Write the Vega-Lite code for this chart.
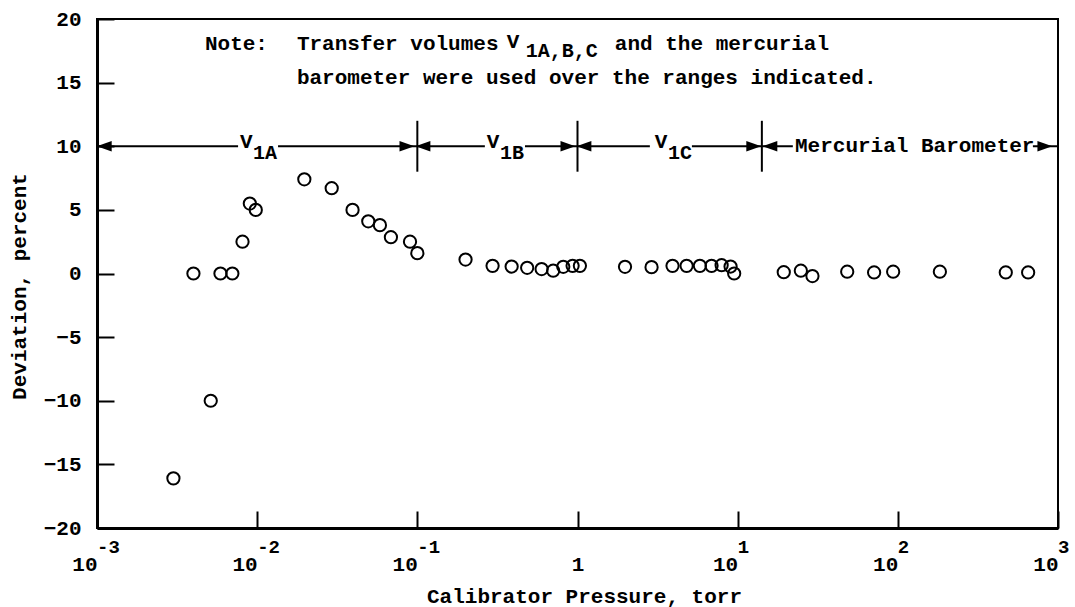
{
  "$schema": "https://vega.github.io/schema/vega-lite/v6.json",
  "autosize": {"type": "none"},
  "padding": {"left": 97, "top": 19, "right": 17, "bottom": 79},
  "width": 961,
  "height": 509,
  "background": "white",
  "config": {
    "view": {"stroke": "black", "strokeWidth": 2},
    "font": "Liberation Mono",
    "axis": {
      "grid": false,
      "domainColor": "black",
      "domainWidth": 3,
      "tickColor": "black",
      "tickWidth": 2,
      "tickSize": -17,
      "labelFont": "Liberation Mono",
      "labelFontWeight": "bold",
      "labelFontSize": 21,
      "labelColor": "black",
      "titleFont": "Liberation Mono",
      "titleFontWeight": "bold",
      "titleFontSize": 21,
      "titleColor": "black",
      "labelOverlap": false,
      "labelFlush": false
    }
  },
  "datasets": {
    "points": [
      {"p": 0.003, "dev": -16.1},
      {"p": 0.004, "dev": 0.0},
      {"p": 0.00513, "dev": -10.0},
      {"p": 0.0059, "dev": 0.0},
      {"p": 0.007, "dev": 0.0},
      {"p": 0.0081, "dev": 2.5},
      {"p": 0.009, "dev": 5.5},
      {"p": 0.0098, "dev": 5.0},
      {"p": 0.0197, "dev": 7.4},
      {"p": 0.0292, "dev": 6.7},
      {"p": 0.0394, "dev": 5.0},
      {"p": 0.0494, "dev": 4.1},
      {"p": 0.0584, "dev": 3.8},
      {"p": 0.0684, "dev": 2.85},
      {"p": 0.09, "dev": 2.5},
      {"p": 0.1, "dev": 1.6},
      {"p": 0.2, "dev": 1.1},
      {"p": 0.295, "dev": 0.6},
      {"p": 0.388, "dev": 0.55},
      {"p": 0.485, "dev": 0.45},
      {"p": 0.597, "dev": 0.35},
      {"p": 0.705, "dev": 0.22},
      {"p": 0.815, "dev": 0.53},
      {"p": 0.932, "dev": 0.6},
      {"p": 1.035, "dev": 0.6},
      {"p": 1.98, "dev": 0.53},
      {"p": 2.9, "dev": 0.5},
      {"p": 3.92, "dev": 0.6},
      {"p": 4.8, "dev": 0.6},
      {"p": 5.81, "dev": 0.6},
      {"p": 6.87, "dev": 0.6},
      {"p": 7.94, "dev": 0.65},
      {"p": 9.03, "dev": 0.55},
      {"p": 9.51, "dev": 0.0},
      {"p": 19.4, "dev": 0.1},
      {"p": 24.8, "dev": 0.22},
      {"p": 29.3, "dev": -0.2},
      {"p": 48.3, "dev": 0.14},
      {"p": 71.1, "dev": 0.08},
      {"p": 93.5, "dev": 0.14},
      {"p": 183, "dev": 0.14},
      {"p": 472, "dev": 0.08},
      {"p": 651, "dev": 0.08}
    ],
    "segments": [
      {"x1": 0.001, "x2": 0.0076, "y": 10},
      {"x1": 0.0135, "x2": 0.1, "y": 10},
      {"x1": 0.1, "x2": 0.264, "y": 10},
      {"x1": 0.47, "x2": 1, "y": 10},
      {"x1": 1, "x2": 2.83, "y": 10},
      {"x1": 5.18, "x2": 14.16, "y": 10},
      {"x1": 14.16, "x2": 22.1, "y": 10},
      {"x1": 697, "x2": 1000, "y": 10}
    ],
    "separators": [
      {"x": 0.1, "y1": 8, "y2": 12},
      {"x": 1, "y1": 8, "y2": 12},
      {"x": 14.16, "y1": 8, "y2": 12}
    ],
    "arrows": [
      {"x": 0.00111, "y": 10, "dir": "left"},
      {"x": 0.1084, "y": 10, "dir": "left"},
      {"x": 1.097, "y": 10, "dir": "left"},
      {"x": 15.9, "y": 10, "dir": "left"},
      {"x": 0.0861, "y": 10, "dir": "right"},
      {"x": 0.871, "y": 10, "dir": "right"},
      {"x": 12.6, "y": 10, "dir": "right"},
      {"x": 828, "y": 10, "dir": "right"}
    ],
    "labels": [
      {"x": 0.00472, "y": 18.05, "t": "Note:", "kind": "main"},
      {"x": 0.0177, "y": 18.05, "t": "Transfer volumes", "kind": "main"},
      {"x": 0.362, "y": 18.2, "t": "V", "kind": "main"},
      {"x": 0.475, "y": 17.45, "t": "1A,B,C", "kind": "sub"},
      {"x": 1.71, "y": 18.05, "t": "and the mercurial", "kind": "main"},
      {"x": 0.0177, "y": 15.36, "t": "barometer were used over the ranges indicated.", "kind": "main"},
      {"x": 0.00782, "y": 10.36, "t": "V", "kind": "main"},
      {"x": 0.00941, "y": 9.47, "t": "1A", "kind": "sub"},
      {"x": 0.2716, "y": 10.36, "t": "V", "kind": "main"},
      {"x": 0.328, "y": 9.47, "t": "1B", "kind": "sub"},
      {"x": 3.04, "y": 10.36, "t": "V", "kind": "main"},
      {"x": 3.67, "y": 9.47, "t": "1C", "kind": "sub"},
      {"x": 22.8, "y": 10, "t": "Mercurial Barometer", "kind": "main"}
    ],
    "exponents": [
      {"p": 0.001, "e": "-3"},
      {"p": 0.01, "e": "-2"},
      {"p": 0.1, "e": "-1"},
      {"p": 10, "e": "1"},
      {"p": 100, "e": "2"},
      {"p": 1000, "e": "3"}
    ]
  },
  "layer": [
    {
      "data": {"name": "points"},
      "mark": {"type": "point", "shape": "circle", "filled": false, "stroke": "black", "strokeWidth": 2, "size": 150, "opacity": 1},
      "encoding": {
        "x": {
          "field": "p", "type": "quantitative",
          "scale": {"type": "log", "domain": [0.001, 1000], "nice": false},
          "axis": {
            "values": [0.001, 0.01, 0.1, 1, 10, 100, 1000],
            "labelExpr": "datum.value > 0.5 && datum.value < 2 ? '1' : '10'",
            "labelPadding": 42,
            "labelAlign": {"condition": {"test": "datum.value > 0.5 && datum.value < 2", "value": "center"}, "value": "right"},
            "title": "Calibrator Pressure, torr",
            "titleX": 487,
            "titleY": 68,
            "titleAlign": "center",
            "titleBaseline": "middle"
          }
        },
        "y": {
          "field": "dev", "type": "quantitative",
          "scale": {"domain": [-20, 20], "nice": false},
          "axis": {
            "values": [-20, -15, -10, -5, 0, 5, 10, 15, 20],
            "labelPadding": 33,
            "title": "Deviation, percent",
            "titleX": -78,
            "titleY": 267,
            "titleAngle": 270,
            "titleAlign": "center",
            "titleBaseline": "middle"
          }
        }
      }
    },
    {
      "data": {"name": "segments"},
      "mark": {"type": "rule", "color": "black", "strokeWidth": 2},
      "encoding": {
        "x": {"field": "x1", "type": "quantitative"},
        "x2": {"field": "x2"},
        "y": {"field": "y", "type": "quantitative"}
      }
    },
    {
      "data": {"name": "separators"},
      "mark": {"type": "rule", "color": "black", "strokeWidth": 2},
      "encoding": {
        "x": {"field": "x", "type": "quantitative"},
        "y": {"field": "y1", "type": "quantitative"},
        "y2": {"field": "y2"}
      }
    },
    {
      "data": {"name": "arrows"},
      "transform": [{"filter": "datum.dir == 'left'"}],
      "mark": {"type": "point", "shape": "M-1,0L1,-0.7L1,0.7Z", "filled": true, "color": "black", "size": 220, "opacity": 1},
      "encoding": {
        "x": {"field": "x", "type": "quantitative"},
        "y": {"field": "y", "type": "quantitative"}
      }
    },
    {
      "data": {"name": "arrows"},
      "transform": [{"filter": "datum.dir == 'right'"}],
      "mark": {"type": "point", "shape": "M1,0L-1,-0.7L-1,0.7Z", "filled": true, "color": "black", "size": 220, "opacity": 1},
      "encoding": {
        "x": {"field": "x", "type": "quantitative"},
        "y": {"field": "y", "type": "quantitative"}
      }
    },
    {
      "data": {"name": "labels"},
      "transform": [{"filter": "datum.kind == 'main'"}],
      "mark": {"type": "text", "align": "left", "baseline": "middle", "font": "Liberation Mono", "fontWeight": "bold", "fontSize": 21, "color": "black"},
      "encoding": {
        "x": {"field": "x", "type": "quantitative"},
        "y": {"field": "y", "type": "quantitative"},
        "text": {"field": "t"}
      }
    },
    {
      "data": {"name": "labels"},
      "transform": [{"filter": "datum.kind == 'sub'"}],
      "mark": {"type": "text", "align": "left", "baseline": "middle", "font": "Liberation Mono", "fontWeight": "bold", "fontSize": 20, "color": "black"},
      "encoding": {
        "x": {"field": "x", "type": "quantitative"},
        "y": {"field": "y", "type": "quantitative"},
        "text": {"field": "t"}
      }
    },
    {
      "data": {"name": "exponents"},
      "mark": {"type": "text", "align": "left", "baseline": "middle", "font": "Liberation Mono", "fontWeight": "bold", "fontSize": 19, "color": "black", "dx": 0, "dy": 19},
      "encoding": {
        "x": {"field": "p", "type": "quantitative"},
        "y": {"datum": -20},
        "text": {"field": "e"}
      }
    }
  ]
}
